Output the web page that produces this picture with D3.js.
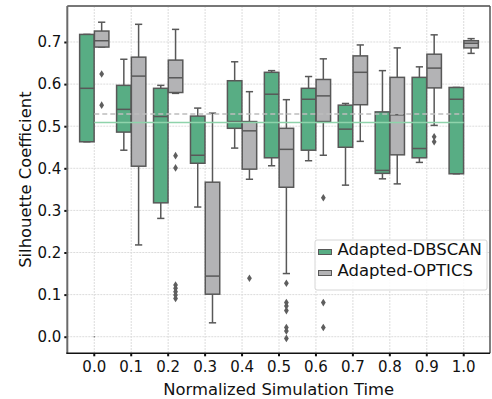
<!DOCTYPE html>
<html>
<head>
<meta charset="utf-8">
<script src="https://cdn.jsdelivr.net/npm/d3@7"></script>
<style>
  html, body { margin: 0; padding: 0; background: #fff; }
  svg { display: block; font-family: "DejaVu Sans", sans-serif; }
</style>
</head>
<body>
<svg id="chart" width="492" height="399"></svg>
<script>
// ---------------- data ----------------
const categories = ["0.0","0.1","0.2","0.3","0.4","0.5","0.6","0.7","0.8","0.9","1.0"];
const seriesNames = ["Adapted-DBSCAN","Adapted-OPTICS"];
const yTicks = [0.0,0.1,0.2,0.3,0.4,0.5,0.6,0.7];

// [whiskerLow, q1, median, q3, whiskerHigh] per category
const dbscanStats = [
  [0.463,0.463,0.590,0.718,0.718],
  [0.443,0.486,0.540,0.597,0.659],
  [0.281,0.318,0.523,0.590,0.597],
  [0.308,0.412,0.431,0.524,0.543],
  [0.448,0.495,0.511,0.608,0.653],
  [0.406,0.425,0.576,0.628,0.632],
  [0.418,0.443,0.564,0.590,0.618],
  [0.360,0.450,0.493,0.550,0.554],
  [0.375,0.388,0.395,0.534,0.632],
  [0.414,0.425,0.447,0.616,0.641],
  [0.387,0.387,0.564,0.592,0.592]
];
const opticsStats = [
  [0.688,0.688,0.703,0.726,0.747],
  [0.218,0.405,0.619,0.664,0.742],
  [0.578,0.580,0.615,0.657,0.730],
  [0.033,0.101,0.144,0.367,0.531],
  [0.374,0.398,0.489,0.511,0.582],
  [0.150,0.355,0.445,0.495,0.563],
  [0.431,0.511,0.572,0.611,0.660],
  [0.464,0.551,0.628,0.667,0.693],
  [0.363,0.432,0.527,0.616,0.686],
  [0.502,0.591,0.638,0.671,0.717],
  [0.673,0.686,0.697,0.703,0.708]
];
const dbscanOutliers = [[],[],[],[],[],[],[],[],[],[],[]];
const opticsOutliers = [
  [0.624,0.550],
  [],
  [0.430,0.401,0.123,0.115,0.107,0.099,0.091],
  [],
  [0.139],
  [0.127,0.081,0.073,0.062,0.022,0.0135,-0.004],
  [0.330,0.081,0.022],
  [],
  [],
  [0.475,0.463],
  []
];
const meanValues = [0.509, 0.529]; // DBSCAN, OPTICS
const centerMarkValue = 0.0;        // tiny mark at first category

// ---------------- layout ----------------
const svg = d3.select("#chart");
const plot = {left: 67.3, right: 490, top: 6, bottom: 353.3};
const colors = ["#58ad84", "#b3b3b5"];
const edge = "#585858";

const x = d3.scaleBand().domain(categories).range([75.8, 482.2]).paddingInner(0).paddingOuter(0);
const bw = x.bandwidth();
const hue = d3.scaleBand().domain(seriesNames).range([0.1*bw, 0.9*bw]);
const y = d3.scaleLinear().domain([-0.0394, 0.7855]).range([plot.bottom, plot.top]);

// grid
const grid = svg.append("g");
grid.selectAll("line.h").data(yTicks).enter().append("line")
  .attr("x1", plot.left).attr("x2", plot.right)
  .attr("y1", d => y(d)).attr("y2", d => y(d))
  .attr("stroke", "#dcdcdc").attr("stroke-width", 1).attr("stroke-dasharray", "2,1");
grid.selectAll("line.v").data(categories).enter().append("line")
  .attr("x1", d => x(d) + bw/2).attr("x2", d => x(d) + bw/2)
  .attr("y1", plot.top).attr("y2", plot.bottom)
  .attr("stroke", "#dcdcdc").attr("stroke-width", 1).attr("stroke-dasharray", "2,1");

// boxes
const series = [
  {name: seriesNames[0], stats: dbscanStats, out: dbscanOutliers, color: colors[0]},
  {name: seriesNames[1], stats: opticsStats, out: opticsOutliers, color: colors[1]}
];
const boxW = hue.bandwidth() * 0.98;
const diamond = "M0,-3.8L2.4,0L0,3.8L-2.4,0Z";

series.forEach(s => {
  const g = svg.append("g");
  s.stats.forEach((st, i) => {
    const cx = x(categories[i]) + hue(s.name) + hue.bandwidth()/2;
    const [lo, q1, med, q3, hi] = st;
    // whiskers
    g.append("line").attr("x1", cx).attr("x2", cx).attr("y1", y(q3)).attr("y2", y(hi))
      .attr("stroke", edge).attr("stroke-width", 1.5);
    g.append("line").attr("x1", cx).attr("x2", cx).attr("y1", y(q1)).attr("y2", y(lo))
      .attr("stroke", edge).attr("stroke-width", 1.5);
    [lo, hi].forEach(v => {
      g.append("line").attr("x1", cx - boxW/4).attr("x2", cx + boxW/4)
        .attr("y1", y(v)).attr("y2", y(v)).attr("stroke", edge).attr("stroke-width", 1.5);
    });
    // box
    g.append("rect").attr("x", cx - boxW/2).attr("width", boxW)
      .attr("y", y(q3)).attr("height", y(q1) - y(q3))
      .attr("fill", s.color).attr("stroke", edge).attr("stroke-width", 1.5);
    g.append("line").attr("x1", cx - boxW/2).attr("x2", cx + boxW/2)
      .attr("y1", y(med)).attr("y2", y(med)).attr("stroke", edge).attr("stroke-width", 1.5);
    // outliers
    s.out[i].forEach(v => {
      g.append("path").attr("d", diamond)
        .attr("transform", `translate(${cx},${y(v)})`)
        .attr("fill", "#5e5e5e");
    });
  });
});

// tiny mark at first category center
svg.append("circle").attr("cx", x(categories[0]) + bw/2).attr("cy", y(centerMarkValue))
  .attr("r", 0.8).attr("fill", "#777");

// mean lines
const xStart = x(categories[0]) + bw/2, xEnd = x(categories[categories.length-1]) + bw/2;
svg.append("line").attr("x1", xStart).attr("x2", xEnd)
  .attr("y1", y(meanValues[0])).attr("y2", y(meanValues[0]))
  .attr("stroke", "#8fd3ab").attr("stroke-width", 1.5);
svg.append("line").attr("x1", xStart).attr("x2", xEnd)
  .attr("y1", y(meanValues[1])).attr("y2", y(meanValues[1]))
  .attr("stroke", "#bdbdbd").attr("stroke-width", 1.5).attr("stroke-dasharray", "5,3");

// axes
const yAxis = d3.axisLeft(y).tickValues(yTicks).tickFormat(d3.format(".1f")).tickSize(3).tickPadding(3);
const yg = svg.append("g").attr("transform", `translate(${plot.left},0)`).call(yAxis);
yg.select(".domain").remove();
yg.selectAll(".tick line").attr("stroke", "#111").attr("stroke-width", 2);
yg.selectAll(".tick text").attr("font-size", 15).attr("fill", "#111")
  .attr("font-family", "DejaVu Sans");

const xAxis = d3.axisBottom(x).tickSize(3).tickPadding(5);
const xg = svg.append("g").attr("transform", `translate(0,${plot.bottom})`).call(xAxis);
xg.select(".domain").remove();
xg.selectAll(".tick line").attr("stroke", "#111").attr("stroke-width", 2);
xg.selectAll(".tick text").attr("font-size", 15).attr("fill", "#111")
  .attr("font-family", "DejaVu Sans");

// frame
svg.append("line").attr("x1", plot.left).attr("x2", plot.right).attr("y1", plot.top).attr("y2", plot.top)
  .attr("stroke", "#777").attr("stroke-width", 2);
svg.append("line").attr("x1", plot.right).attr("x2", plot.right).attr("y1", plot.top).attr("y2", plot.bottom)
  .attr("stroke", "#555").attr("stroke-width", 1.5);
svg.append("line").attr("x1", plot.left).attr("x2", plot.left).attr("y1", plot.top).attr("y2", plot.bottom)
  .attr("stroke", "#6a6a6a").attr("stroke-width", 2);
svg.append("line").attr("x1", plot.left - 1).attr("x2", plot.right).attr("y1", plot.bottom).attr("y2", plot.bottom)
  .attr("stroke", "#111").attr("stroke-width", 1.5);

// axis labels
svg.append("text").attr("x", (plot.left + plot.right)/2).attr("y", 395)
  .attr("text-anchor", "middle").attr("font-size", 16.4).attr("fill", "#111")
  .text("Normalized Simulation Time");
svg.append("text").attr("transform", `translate(31,${(plot.top + plot.bottom)/2}) rotate(-90)`)
  .attr("text-anchor", "middle").attr("font-size", 16.4).attr("fill", "#111")
  .text("Silhouette Coefficient");

// legend
const lg = svg.append("g");
lg.append("rect").attr("x", 315).attr("y", 240).attr("width", 172).attr("height", 50)
  .attr("rx", 2).attr("fill", "#fff").attr("fill-opacity", 0.85)
  .attr("stroke", "#d6d6d6").attr("stroke-width", 1);
seriesNames.forEach((n, i) => {
  lg.append("rect").attr("x", 318.5).attr("y", 249.5 + i*21).attr("width", 13).attr("height", 5)
    .attr("fill", colors[i]).attr("stroke", edge).attr("stroke-width", 1);
  lg.append("text").attr("x", 337.5).attr("y", 255 + i*20.5).attr("font-size", 16.5)
    .attr("fill", "#111").text(n);
});
</script>
</body>
</html>
